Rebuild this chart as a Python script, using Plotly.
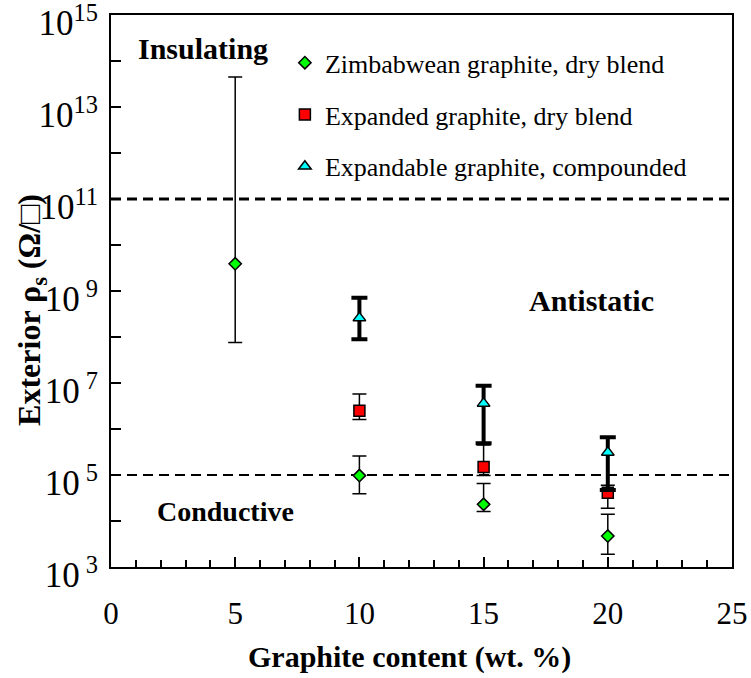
import plotly.graph_objects as go

# Surface resistivity (ohm/sq) versus graphite loading (wt. %)
zim_x = [5, 10, 15, 20]
zim_val = [3.9e9, 9.7e4, 2.3e4, 4.7e3]
zim_hi = [4.5e13, 2.6e5, 6.5e4, 1.4e4]
zim_lo = [7.6e7, 3.9e4, 1.6e4, 1.9e3]

exp_x = [10, 15, 20]
exp_val = [2.5e6, 1.5e5, 4.1e4]
exp_hi = [5.8e6, 4.5e5, 6.0e4]
exp_lo = [1.6e6, 9.8e4, 1.9e4]

cmp_x = [10, 15, 20]
cmp_val = [2.6e8, 3.6e6, 3.1e5]
cmp_hi = [7.1e8, 8.7e6, 6.6e5]
cmp_lo = [8.9e7, 4.9e5, 4.7e4]

# class boundaries: insulating / antistatic / conductive
limits = [1e11, 1e5]
limit_widths = [3, 2]

decades = list(range(3, 16))
tick_text = []
for k in decades:
    if k % 2 == 0:
        tick_text.append("")
    elif k < 10:
        tick_text.append("10<sup>\u00a0%d</sup>" % k)
    else:
        tick_text.append("10<sup>%d</sup>" % k)

SERIF = "Liberation Serif"


def err(val, hi, lo):
    return [h - v for v, h in zip(val, hi)], [v - l for v, l in zip(val, lo)]


fig = go.Figure()

for lim, w in zip(limits, limit_widths):
    fig.add_trace(go.Scatter(
        x=[0, 25], y=[lim, lim], mode="lines", showlegend=False, hoverinfo="skip",
        line=dict(color="black", width=w, dash="10px,6px")))

plus, minus = err(zim_val, zim_hi, zim_lo)
fig.add_trace(go.Scatter(
    x=zim_x, y=zim_val, mode="markers", name="Zimbabwean graphite, dry blend",
    legendgroup="a",
    marker=dict(symbol="diamond", size=9.5, color="#00ff00",
                line=dict(color="black", width=1.5)),
    error_y=dict(type="data", symmetric=False, array=plus, arrayminus=minus,
                 color="black", thickness=1.5, width=7)))

plus, minus = err(exp_val, exp_hi, exp_lo)
fig.add_trace(go.Scatter(
    x=exp_x, y=exp_val, mode="markers", name="Expanded graphite, dry blend",
    legendgroup="b",
    marker=dict(symbol="square", size=11, color="#ff0000",
                line=dict(color="black", width=1.5)),
    error_y=dict(type="data", symmetric=False, array=plus, arrayminus=minus,
                 color="black", thickness=1.5, width=7)))

plus, minus = err(cmp_val, cmp_hi, cmp_lo)
fig.add_trace(go.Scatter(
    x=cmp_x, y=cmp_val, mode="markers", name="Expandable graphite, compounded",
    legendgroup="c",
    marker=dict(symbol="triangle-up", size=11, color="#00ffff",
                line=dict(color="black", width=1.5)),
    error_y=dict(type="data", symmetric=False, array=plus, arrayminus=minus,
                 color="black", thickness=4, width=8)))

fig.update_layout(
    width=751, height=678,
    margin=dict(l=111, r=19, t=15, b=111, autoexpand=False),
    paper_bgcolor="white", plot_bgcolor="white",
    font=dict(family=SERIF, color="black", size=20),
    showlegend=True,
    legend=dict(x=0.28, y=0.956, xanchor="left", yanchor="top",
                bgcolor="rgba(0,0,0,0)", font=dict(size=26, family=SERIF, color="black"),
                tracegroupgap=15, itemwidth=30),
    xaxis=dict(range=[0, 25], tick0=0, dtick=5, ticks="inside", ticklen=10,
               tickwidth=2, tickcolor="black", showline=True, linewidth=2,
               linecolor="black", mirror=True, showgrid=False, zeroline=False,
               automargin=False,
               tickfont=dict(size=31, family=SERIF, color="black"), ticklabelstandoff=18,
               minor=dict(dtick=1, ticks="inside", ticklen=7, tickwidth=1.5,
                          tickcolor="black", showgrid=False)),
    yaxis=dict(type="log", range=[2.9999, 15.0001], tickvals=[10 ** k for k in decades],
               ticktext=tick_text, ticks="inside", ticklen=10, tickwidth=2,
               tickcolor="black", showline=True, linewidth=2, linecolor="black",
               mirror=True, showgrid=False, zeroline=False, ticklabeloverflow="allow",
               automargin=False, ticklabelshift=8,
               tickfont=dict(size=35, family=SERIF, color="black"), ticklabelstandoff=4),
    annotations=[
        dict(text="<b>Insulating</b>", x=3.7, y=14.28, xref="x", yref="y",
             showarrow=False, font=dict(size=30, family=SERIF, color="black")),
        dict(text="<b>Antistatic</b>", x=19.33, y=8.8, xref="x", yref="y",
             showarrow=False, font=dict(size=30, family=SERIF, color="black")),
        dict(text="<b>Conductive</b>", x=4.62, y=4.2, xref="x", yref="y",
             showarrow=False, font=dict(size=28, family=SERIF, color="black")),
        dict(text="<b>Graphite content (wt. %)</b>", x=0.481, y=-0.163,
             xref="paper", yref="paper", showarrow=False, yanchor="middle",
             font=dict(size=30, family=SERIF, color="black")),
        dict(text="<b>Exterior \u03c1<sub>s</sub> (\u03a9/\u25a1)</b>", x=-0.127,
             y=0.466, xref="paper", yref="paper", showarrow=False, textangle=-90,
             xanchor="center", yanchor="middle",
             font=dict(size=32, family=SERIF, color="black")),
    ],
)

fig.write_html("out.html")
